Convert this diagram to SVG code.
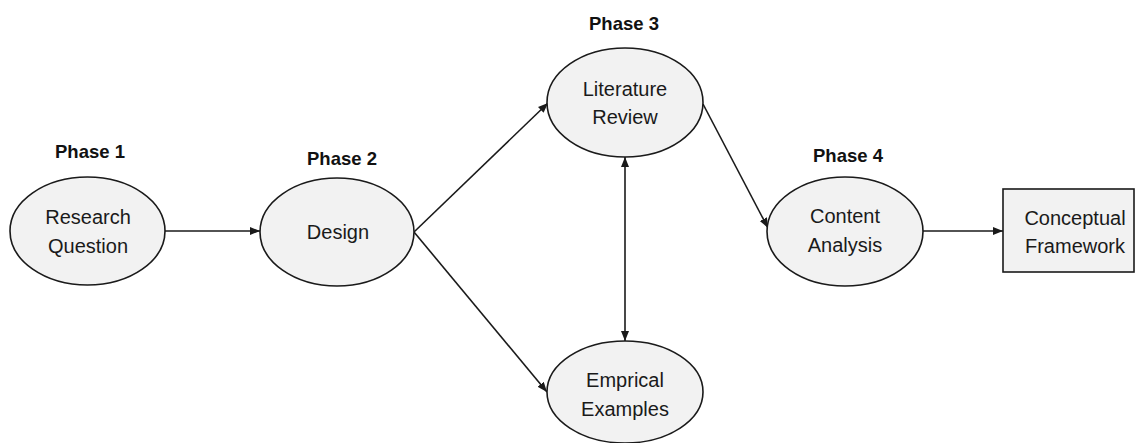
<svg xmlns="http://www.w3.org/2000/svg" width="1137" height="443" viewBox="0 0 1137 443">
<style>
.n{fill:#f2f2f2;stroke:#1a1a1a;stroke-width:1.6}
.t{font-family:"Liberation Sans",Arial,sans-serif;font-size:20px;fill:#1a1a1a;text-anchor:middle}
.p{font-family:"Liberation Sans",Arial,sans-serif;font-size:18.5px;font-weight:bold;fill:#111;text-anchor:middle}
.c{stroke:#1a1a1a;stroke-width:1.6;fill:none}
</style>
<defs>
<marker id="ah" viewBox="0 0 10 10" refX="10" refY="5" markerWidth="10" markerHeight="10" markerUnits="userSpaceOnUse" orient="auto-start-reverse">
<path d="M0,1 L10,5 L0,9 Z" fill="#1a1a1a"/>
</marker>
</defs>
<g id="phases">
<text class="p" x="90" y="158">Phase 1</text>
<text class="p" x="342" y="165">Phase 2</text>
<text class="p" x="624" y="30">Phase 3</text>
<text class="p" x="848" y="162">Phase 4</text>
</g>
<g id="connectors">
<line class="c" x1="165" y1="231" x2="260" y2="231" marker-end="url(#ah)"/>
<line class="c" x1="414" y1="232" x2="548" y2="103" marker-end="url(#ah)"/>
<line class="c" x1="414" y1="232" x2="547" y2="392" marker-end="url(#ah)"/>
<line class="c" x1="625" y1="157" x2="625" y2="341" marker-start="url(#ah)" marker-end="url(#ah)"/>
<line class="c" x1="703" y1="104" x2="768" y2="228" marker-end="url(#ah)"/>
<line class="c" x1="923" y1="231" x2="1003" y2="231" marker-end="url(#ah)"/>
</g>
<g id="research-question">
<ellipse class="n" cx="87.5" cy="231" rx="77.5" ry="54"/>
<text class="t" x="88" y="224">Research</text>
<text class="t" x="88" y="253">Question</text>
</g>
<g id="design">
<ellipse class="n" cx="337" cy="232" rx="77" ry="54"/>
<text class="t" x="338" y="239">Design</text>
</g>
<g id="literature-review">
<ellipse class="n" cx="625" cy="102.5" rx="78" ry="54.5"/>
<text class="t" x="625" y="96">Literature</text>
<text class="t" x="625" y="124">Review</text>
</g>
<g id="emprical-examples">
<ellipse class="n" cx="625" cy="392" rx="78" ry="51"/>
<text class="t" x="625" y="387">Emprical</text>
<text class="t" x="625" y="416">Examples</text>
</g>
<g id="content-analysis">
<ellipse class="n" cx="845" cy="231.5" rx="78" ry="54.5"/>
<text class="t" x="845" y="223">Content</text>
<text class="t" x="845" y="252">Analysis</text>
</g>
<g id="conceptual-framework">
<rect class="n" x="1003" y="189" width="131" height="83"/>
<text class="t" x="1075" y="225">Conceptual</text>
<text class="t" x="1075" y="253">Framework</text>
</g>
</svg>
